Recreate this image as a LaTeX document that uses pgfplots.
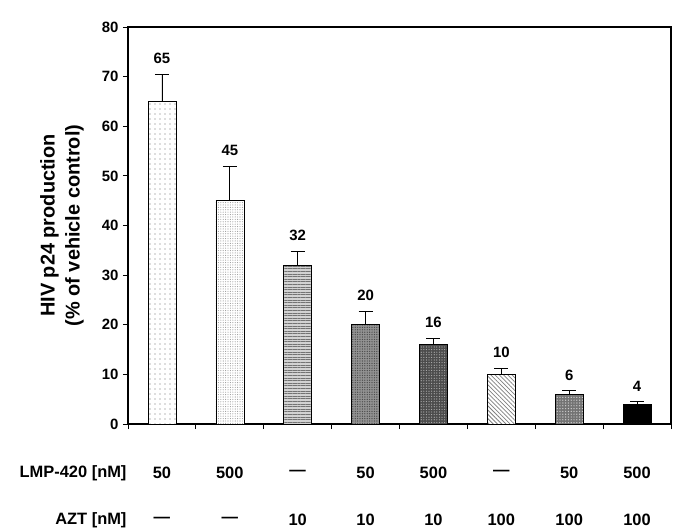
\documentclass[border=0pt]{standalone}
\usepackage{fontspec}
\setmainfont{Liberation Sans}
\usepackage{pgfplots}
\pgfplotsset{compat=1.18}
\usetikzlibrary{patterns.meta}

\pgfplotsset{
  mybar/.style={ybar, bar width=28bp, bar shift=0pt, draw=black, line width=0.6pt,
    error bars/y dir=plus, error bars/y explicit,
    error bars/error bar style={line width=0.8pt, black},
    error bars/error mark options={rotate=90, mark size=7bp, line width=0.8pt, black}},
}
\newcommand{\rowfont}{\fontsize{16.5}{18}\selectfont\bfseries}

\begin{document}
\begin{tikzpicture}
\useasboundingbox (-128bp,-105bp) rectangle (557bp,424bp);
\begin{axis}[
  at={(0,0)}, anchor=south west,
  scale only axis, width=543bp, height=397bp,
  xmin=0.5, xmax=8.5, ymin=0, ymax=80,
  xtick={0.5,1.5,...,8.5}, xticklabels={},
  ytick={0,10,...,80},
  tick align=outside, tick pos=left, major tick length=5bp,
  axis line style={line width=1.1pt},
  every tick/.style={line width=0.8pt, black},
  clip=false,
  /pgf/number format/assume math mode=true,
  ticklabel style={font=\fontsize{15}{17}\selectfont\bfseries},
  yticklabel style={xshift=-1bp},
  ylabel={HIV p24 production\\(\% of vehicle control)},
  ylabel style={align=center, font=\fontsize{20}{25}\selectfont\bfseries,
    at={(axis description cs:-0.1215,0.5)}, anchor=center},
]
% bars with error bars
\addplot[mybar, fill=white, postaction={pattern={Dots[distance=5bp, radius=0.6bp]}, pattern color=gray!90!black}]
  coordinates {(1,65) +- (0,5.5)};
\addplot[mybar, fill=white, postaction={pattern={Dots[distance=2.4bp, radius=0.55bp]}, pattern color=gray!80}]
  coordinates {(2,45) +- (0,7)};
\addplot[mybar, fill=gray!35, postaction={pattern={Lines[angle=0, distance=2.6bp, line width=1bp]}, pattern color=gray!90!black}]
  coordinates {(3,32) +- (0,2.8)};
\addplot[mybar, fill=gray!85, postaction={pattern={Dots[distance=2.4bp, radius=0.7bp]}, pattern color=black!70}]
  coordinates {(4,20) +- (0,2.7)};
\addplot[mybar, fill=black!70, postaction={pattern={Dots[distance=2.6bp, radius=0.6bp]}, pattern color=gray!60}]
  coordinates {(5,16) +- (0,1.3)};
\addplot[mybar, fill=white, postaction={pattern={Lines[angle=-45, distance=3bp, line width=0.8bp]}, pattern color=gray}]
  coordinates {(6,10) +- (0,1.2)};
\addplot[mybar, fill=black!55, postaction={pattern={Dots[distance=2.8bp, radius=0.7bp]}, pattern color=gray!40}]
  coordinates {(7,6) +- (0,0.7)};
\addplot[mybar, fill=black]
  coordinates {(8,4) +- (0,0.5)};
% value labels above the error bars
\addplot[draw=none, mark=none, nodes near coords, point meta=explicit symbolic,
  nodes near coords align={above},
  every node near coord/.append style={font=\fontsize{15}{17}\selectfont\bfseries, black, yshift=7bp}]
  table[x=x, y=y, meta=lab] {
x y lab
1 70.5 65
2 52 45
3 34.8 32
4 22.7 20
5 17.3 16
6 11.2 10
7 6.7 6
8 4.5 4
};
% treatment rows
\node[anchor=east, font=\rowfont] at ([xshift=2bp, yshift=-49bp]rel axis cs:0,0) {LMP-420 [nM]};
\node[anchor=east, font=\rowfont] at ([xshift=2bp, yshift=-96bp]rel axis cs:0,0) {AZT [nM]};
\node[font=\rowfont] at ([yshift=-49bp]axis cs:1,0) {50};
\node[font=\rowfont] at ([yshift=-49bp]axis cs:2,0) {500};
\node[font=\rowfont] at ([yshift=-49bp]axis cs:3,0) {—};
\node[font=\rowfont] at ([yshift=-49bp]axis cs:4,0) {50};
\node[font=\rowfont] at ([yshift=-49bp]axis cs:5,0) {500};
\node[font=\rowfont] at ([yshift=-49bp]axis cs:6,0) {—};
\node[font=\rowfont] at ([yshift=-49bp]axis cs:7,0) {50};
\node[font=\rowfont] at ([yshift=-49bp]axis cs:8,0) {500};
\node[font=\rowfont] at ([yshift=-96bp]axis cs:1,0) {—};
\node[font=\rowfont] at ([yshift=-96bp]axis cs:2,0) {—};
\node[font=\rowfont] at ([yshift=-96bp]axis cs:3,0) {10};
\node[font=\rowfont] at ([yshift=-96bp]axis cs:4,0) {10};
\node[font=\rowfont] at ([yshift=-96bp]axis cs:5,0) {10};
\node[font=\rowfont] at ([yshift=-96bp]axis cs:6,0) {100};
\node[font=\rowfont] at ([yshift=-96bp]axis cs:7,0) {100};
\node[font=\rowfont] at ([yshift=-96bp]axis cs:8,0) {100};
\end{axis}
\end{tikzpicture}
\end{document}
